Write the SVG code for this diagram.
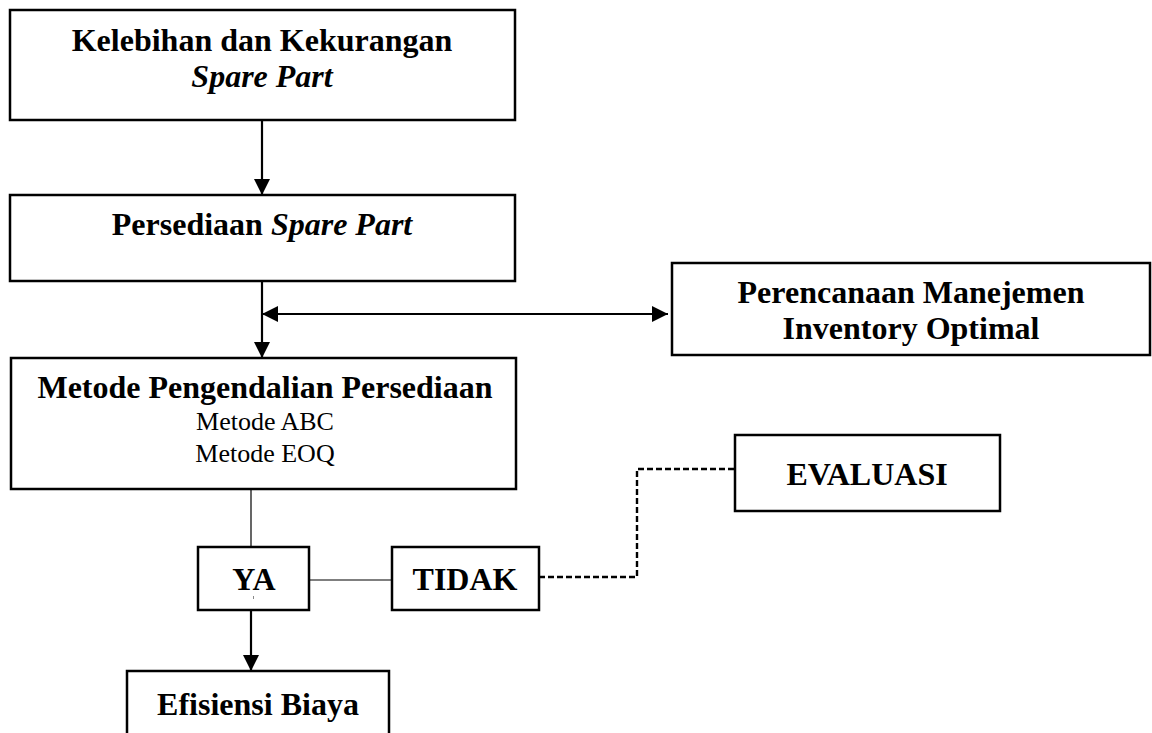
<svg xmlns="http://www.w3.org/2000/svg" width="1152" height="733" viewBox="0 0 1152 733">
<style>
.box{fill:#fff;stroke:#000;stroke-width:2.5}
.t{font-family:"Liberation Serif","Times New Roman",serif;fill:#000;text-anchor:middle}
.b{font-weight:bold;font-size:32px}
.r{font-size:26px}
.i{font-style:italic}
.arrow{fill:none;stroke:#000;stroke-width:2.2}
.thin{fill:none;stroke:#000;stroke-width:1.2}
.dash{fill:none;stroke:#000;stroke-width:2.4;stroke-dasharray:6 3}
</style>
<defs>
<marker id="ah" markerUnits="userSpaceOnUse" markerWidth="16" markerHeight="16" refX="16" refY="8" orient="auto-start-reverse">
<path d="M0,0 L16,8 L0,16 z" fill="#000"/>
</marker>
</defs>
<rect width="1152" height="733" fill="#fff"/>
<g id="connectors">
<line class="arrow" x1="262" y1="121" x2="262" y2="195" marker-end="url(#ah)"/>
<line class="arrow" x1="262" y1="281" x2="262" y2="358" marker-end="url(#ah)"/>
<line class="arrow" x1="262" y1="314" x2="668" y2="314" marker-start="url(#ah)" marker-end="url(#ah)"/>
<line class="thin" x1="251" y1="489" x2="251" y2="547"/>
<line class="thin" x1="309" y1="580" x2="392" y2="580"/>
<polyline class="dash" points="539,577 637,577 637,469 735,469"/>
<line class="arrow" x1="251" y1="610" x2="251" y2="671" marker-end="url(#ah)"/>
</g>
<g id="n1">
<rect class="box" x="10" y="10" width="505" height="110"/>
<text class="t b" x="262" y="51">Kelebihan dan Kekurangan</text>
<text class="t b i" x="262" y="87">Spare Part</text>
</g>
<g id="n2">
<rect class="box" x="10" y="195" width="505" height="86"/>
<text class="t b" x="262" y="235">Persediaan <tspan class="i">Spare Part</tspan></text>
</g>
<g id="n3">
<rect class="box" x="672" y="263" width="478" height="92"/>
<text class="t b" x="911" y="303">Perencanaan Manejemen</text>
<text class="t b" x="911" y="339">Inventory Optimal</text>
</g>
<g id="n4">
<rect class="box" x="11" y="358" width="505" height="131"/>
<text class="t b" x="265" y="398">Metode Pengendalian Persediaan</text>
<text class="t r" x="265" y="430">Metode ABC</text>
<text class="t r" x="265" y="462">Metode EOQ</text>
</g>
<g id="n5">
<rect class="box" x="735" y="435" width="265" height="76"/>
<text class="t b" x="867" y="485">EVALUASI</text>
</g>
<g id="n6">
<rect class="box" x="198" y="547" width="111" height="63"/>
<text class="t b" x="254" y="590">YA</text>
<line x1="253.5" y1="596" x2="253.5" y2="599" stroke="#888" stroke-width="1"/>
</g>
<g id="n7">
<rect class="box" x="392" y="547" width="147" height="63"/>
<text class="t b" x="465" y="590">TIDAK</text>
</g>
<g id="n8">
<rect class="box" x="127" y="671" width="262" height="80"/>
<text class="t b" x="258" y="715">Efisiensi Biaya</text>
</g>
</svg>
